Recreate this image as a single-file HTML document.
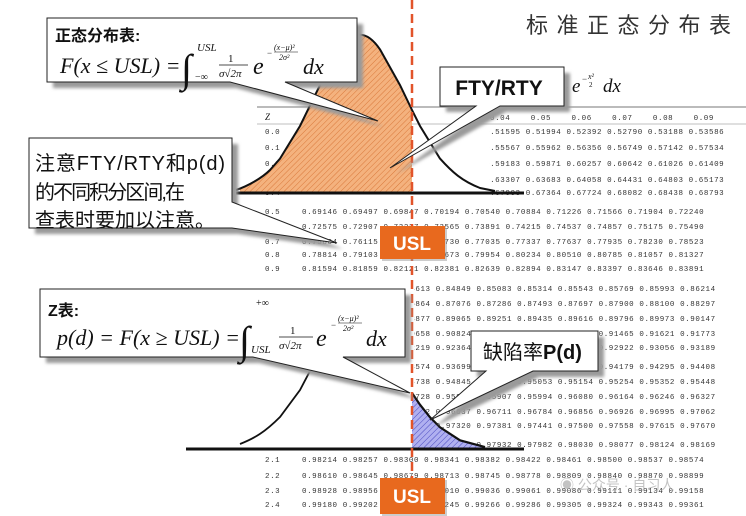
<!DOCTYPE html>
<html><head><meta charset="utf-8"><style>
html,body{margin:0;padding:0;background:#fff;}
svg{display:block}
.t{font-family:"Liberation Mono",monospace;font-size:7.5px;letter-spacing:0.59px;fill:#333;white-space:pre}
.s{font-family:"Liberation Serif",serif;font-style:italic;fill:#111}
.sn{font-family:"Liberation Serif",serif;fill:#111}
.cj{font-family:"Liberation Sans","Noto Sans CJK SC",sans-serif;fill:#111}
</style></head><body>
<svg width="746" height="516" viewBox="0 0 746 516" xmlns="http://www.w3.org/2000/svg">
<defs>
<pattern id="ho" width="4" height="4" patternUnits="userSpaceOnUse" patternTransform="rotate(45)">
<rect width="4" height="4" fill="#f4b27e"/><line x1="0" y1="0" x2="0" y2="4" stroke="#d9783a" stroke-width="1"/></pattern>
<pattern id="hp" width="4" height="4" patternUnits="userSpaceOnUse" patternTransform="rotate(45)">
<rect width="4" height="4" fill="#b0b0f0"/><line x1="0" y1="0" x2="0" y2="4" stroke="#4a4ac0" stroke-width="1"/></pattern>
<clipPath id="c1"><rect x="489" y="0" width="300" height="516"/></clipPath>
<clipPath id="c2"><rect x="414" y="0" width="340" height="516"/></clipPath>
<filter id="sh" x="-10%" y="-10%" width="130%" height="140%"><feGaussianBlur stdDeviation="1.5"/></filter>
</defs>

<text x="526" y="33" class="cj" font-size="22" textLength="205" style="fill:#333">标准正态分布表</text>

<line x1="257" y1="107" x2="746" y2="107" stroke="#777" stroke-width="1"/>
<line x1="257" y1="124" x2="746" y2="124" stroke="#aaa" stroke-width="0.8"/>

<text x="563" y="92" class="s" font-size="9">π</text>
<text x="572" y="92" class="s" font-size="19">e</text>
<text x="582" y="82" class="sn" font-size="9">−</text>
<text x="588" y="79" class="s" font-size="8">x²</text>
<text x="589" y="87" class="sn" font-size="7">2</text>
<text x="603" y="92" class="s" font-size="19">dx</text>

<text x="265" y="120" class="s" font-size="9">Z</text>
<text x="490" y="120" class="t">0.04    0.05    0.06    0.07    0.08    0.09</text>

<g>
<text x="265" y="134" class="t">0.0</text>
<text x="265" y="150" class="t">0.1</text>
<text x="265" y="166" class="t">0.2</text>
<text x="265" y="182" class="t">0.3</text>
<text x="265" y="195" class="t">0.4</text>
</g>
<g clip-path="url(#c1)">
<text x="485" y="134" class="t">0.51595 0.51994 0.52392 0.52790 0.53188 0.53586</text>
<text x="485" y="150" class="t">0.55567 0.55962 0.56356 0.56749 0.57142 0.57534</text>
<text x="485" y="166" class="t">0.59183 0.59871 0.60257 0.60642 0.61026 0.61409</text>
<text x="485" y="182" class="t">0.63307 0.63683 0.64058 0.64431 0.64803 0.65173</text>
<text x="485" y="195" class="t">0.67003 0.67364 0.67724 0.68082 0.68438 0.68793</text>
</g>

<text x="265" y="214" class="t">0.5</text>
<text x="265" y="244" class="t">0.7</text>
<text x="265" y="257" class="t">0.8</text>
<text x="265" y="271" class="t">0.9</text>
<text x="302" y="214" class="t">0.69146 0.69497 0.69847 0.70194 0.70540 0.70884 0.71226 0.71566 0.71904 0.72240</text>
<text x="302" y="229" class="t">0.72575 0.72907 0.73237 0.73565 0.73891 0.74215 0.74537 0.74857 0.75175 0.75490</text>
<text x="302" y="244" class="t">0.75804 0.76115 0.76424 0.76730 0.77035 0.77337 0.77637 0.77935 0.78230 0.78523</text>
<text x="302" y="257" class="t">0.78814 0.79103 0.79389 0.79673 0.79954 0.80234 0.80510 0.80785 0.81057 0.81327</text>
<text x="302" y="271" class="t">0.81594 0.81859 0.82121 0.82381 0.82639 0.82894 0.83147 0.83397 0.83646 0.83891</text>

<g clip-path="url(#c2)">
<text x="395" y="291" class="t">0.84613 0.84849 0.85083 0.85314 0.85543 0.85769 0.85993 0.86214</text>
<text x="395" y="306" class="t">0.86864 0.87076 0.87286 0.87493 0.87697 0.87900 0.88100 0.88297</text>
<text x="395" y="321" class="t">0.88877 0.89065 0.89251 0.89435 0.89616 0.89796 0.89973 0.90147</text>
<text x="395" y="336" class="t">0.90658 0.90824 0.90988 0.91149 0.91308 0.91465 0.91621 0.91773</text>
<text x="395" y="350" class="t">0.92219 0.92364 0.92507 0.92647 0.92785 0.92922 0.93056 0.93189</text>
<text x="395" y="369" class="t">0.93574 0.93699 0.93822 0.93943 0.94062 0.94179 0.94295 0.94408</text>
<text x="395" y="384" class="t">0.94738 0.94845 0.94950 0.95053 0.95154 0.95254 0.95352 0.95448</text>
<text x="395" y="399" class="t">0.95728 0.95818 0.95907 0.95994 0.96080 0.96164 0.96246 0.96327</text>
<text x="395" y="414" class="t">0.96562 0.96637 0.96711 0.96784 0.96856 0.96926 0.96995 0.97062</text>
<text x="395" y="428" class="t">0.97257 0.97320 0.97381 0.97441 0.97500 0.97558 0.97615 0.97670</text>
<text x="395" y="447" class="t">0.97831 0.97882 0.97932 0.97982 0.98030 0.98077 0.98124 0.98169</text>
</g>

<text x="265" y="462" class="t">2.1</text>
<text x="265" y="478" class="t">2.2</text>
<text x="265" y="493" class="t">2.3</text>
<text x="265" y="507" class="t">2.4</text>
<text x="302" y="462" class="t">0.98214 0.98257 0.98300 0.98341 0.98382 0.98422 0.98461 0.98500 0.98537 0.98574</text>
<text x="302" y="478" class="t">0.98610 0.98645 0.98679 0.98713 0.98745 0.98778 0.98809 0.98840 0.98870 0.98899</text>
<text x="302" y="493" class="t">0.98928 0.98956 0.98983 0.99010 0.99036 0.99061 0.99086 0.99111 0.99134 0.99158</text>
<text x="302" y="507" class="t">0.99180 0.99202 0.99224 0.99245 0.99266 0.99286 0.99305 0.99324 0.99343 0.99361</text>

<text x="560" y="490" class="cj" font-size="14" style="fill:#aaa" opacity="0.7">◉ 公众号 · 自习人</text>

<path d="M240,193 L240,187.9 C252,184 262,178 270,170 L280,158.6 L300,126 L320,85.1 L340,49.4 Q360,20 380,49.4 L400,85.1 L412,110 L412,193 Z" fill="url(#ho)"/>
<path d="M236,190 C248,186 262,178 270,170 L280,158.6 L300,126 L320,85.1 L340,49.4 Q360,20 380,49.4 L400,85.1 L412,110 L420,126 L440,158.6 C452,172 462,181 480,188 L495,191" fill="none" stroke="#111" stroke-width="2"/>

<path d="M412,393 L420,404.7 L430,417.3 L440,427.3 L460,440.3 L480,446 L492,449 L412,449 Z" fill="url(#hp)"/>
<path d="M240,444 C255,438 265,432 280,417 L300,390 L310,371" fill="none" stroke="#111" stroke-width="1.8"/>
<path d="M412,393 L420,404.7 L430,417.3 L440,427.3 L460,440.3 L485,447" fill="none" stroke="#111" stroke-width="2.2"/>

<line x1="236" y1="193" x2="524" y2="193" stroke="#111" stroke-width="3"/>
<line x1="186" y1="449" x2="524" y2="449" stroke="#111" stroke-width="3"/>

<line x1="412" y1="0" x2="412" y2="516" stroke="#e2542a" stroke-width="2.5" stroke-dasharray="9,5"/>

<path d="M53,24 H363 V88 H291 L384,127 L236,88 H53 Z" fill="#9a9a9a" filter="url(#sh)"/>
<path d="M47,18 H357 V82 H285 L378,121 L230,82 H47 Z" fill="#fff" stroke="#222" stroke-width="1"/>
<text x="55" y="41" class="cj" font-size="16" font-weight="bold">正态分布表:</text>
<text x="60" y="73" class="s" font-size="22">F<tspan class="sn">(</tspan>x<tspan class="sn"> ≤ </tspan>USL<tspan class="sn">) =</tspan></text>
<text x="181" y="82" class="sn" font-size="40">∫</text>
<text x="197" y="51" class="s" font-size="11">USL</text>
<text x="195" y="80" class="sn" font-size="10">−∞</text>
<text x="228" y="62" class="sn" font-size="11">1</text>
<line x1="219" y1="65" x2="248" y2="65" stroke="#111" stroke-width="0.8"/>
<text x="219" y="77" class="s" font-size="11">σ√2π</text>
<text x="253" y="74" class="s" font-size="24">e</text>
<text x="267" y="56" class="sn" font-size="9">−</text>
<text x="274" y="50" class="s" font-size="8">(x−μ)²</text>
<line x1="274" y1="52" x2="298" y2="52" stroke="#111" stroke-width="0.6"/>
<text x="279" y="60" class="s" font-size="8">2σ²</text>
<text x="303" y="74" class="s" font-size="22">dx</text>

<path d="M446,73 H570 V112 H506 L396,174 L482,112 H446 Z" fill="#9a9a9a" filter="url(#sh)"/>
<path d="M440,67 H564 V106 H500 L390,168 L476,106 H440 Z" fill="#fff" stroke="#222" stroke-width="1"/>
<text x="499" y="95" class="cj" font-size="21" font-weight="bold" text-anchor="middle">FTY/RTY</text>

<path d="M35,144 H238 V208 L343,249 L238,234 H35 Z" fill="#9a9a9a" filter="url(#sh)"/>
<path d="M29,138 H232 V202 L337,243 L232,228 H29 Z" fill="#fff" stroke="#222" stroke-width="1"/>
<text x="35" y="170" class="cj" font-size="20" textLength="190">注意FTY/RTY和p(d)</text>
<text x="35" y="199" class="cj" font-size="20" textLength="150">的不同积分区间,在</text>
<text x="35" y="227" class="cj" font-size="20" textLength="180">查表时要加以注意。</text>

<path d="M46,295 H411 V363 H349 L416,399 L259,363 H46 Z" fill="#9a9a9a" filter="url(#sh)"/>
<path d="M40,289 H405 V357 H343 L410,393 L253,357 H40 Z" fill="#fff" stroke="#222" stroke-width="1"/>
<text x="48" y="316" class="cj" font-size="16" font-weight="bold">Z表:</text>
<text x="57" y="345" class="s" font-size="22">p<tspan class="sn">(</tspan>d<tspan class="sn">) = </tspan>F<tspan class="sn">(</tspan>x<tspan class="sn"> ≥ </tspan>USL<tspan class="sn">) =</tspan></text>
<text x="239" y="354" class="sn" font-size="40">∫</text>
<text x="256" y="306" class="sn" font-size="10">+∞</text>
<text x="251" y="353" class="s" font-size="11">USL</text>
<text x="290" y="334" class="sn" font-size="11">1</text>
<line x1="279" y1="337" x2="313" y2="337" stroke="#111" stroke-width="0.8"/>
<text x="279" y="349" class="s" font-size="11">σ√2π</text>
<text x="316" y="346" class="s" font-size="24">e</text>
<text x="331" y="328" class="sn" font-size="9">−</text>
<text x="338" y="321" class="s" font-size="8">(x−μ)²</text>
<line x1="338" y1="323" x2="362" y2="323" stroke="#111" stroke-width="0.6"/>
<text x="343" y="331" class="s" font-size="8">2σ²</text>
<text x="366" y="346" class="s" font-size="22">dx</text>

<path d="M477,337 H604 V377 H539 L436,426 L492,377 H477 Z" fill="#9a9a9a" filter="url(#sh)"/>
<path d="M471,331 H598 V371 H533 L430,420 L486,371 H471 Z" fill="#fff" stroke="#222" stroke-width="1"/>
<text x="483" y="359" class="cj" font-size="20">缺陷率<tspan font-weight="bold">P(d)</tspan></text>

<rect x="382" y="228" width="65" height="33" fill="#999" opacity="0.5"/>
<rect x="380" y="226" width="65" height="33" fill="#e8691e"/>
<text x="412" y="250" class="cj" font-size="19" font-weight="bold" text-anchor="middle" style="fill:#fff">USL</text>
<rect x="382" y="480" width="65" height="36" fill="#999" opacity="0.5"/>
<rect x="380" y="478" width="65" height="36" fill="#e8691e"/>
<text x="412" y="503" class="cj" font-size="19" font-weight="bold" text-anchor="middle" style="fill:#fff">USL</text>
</svg>
</body></html>
